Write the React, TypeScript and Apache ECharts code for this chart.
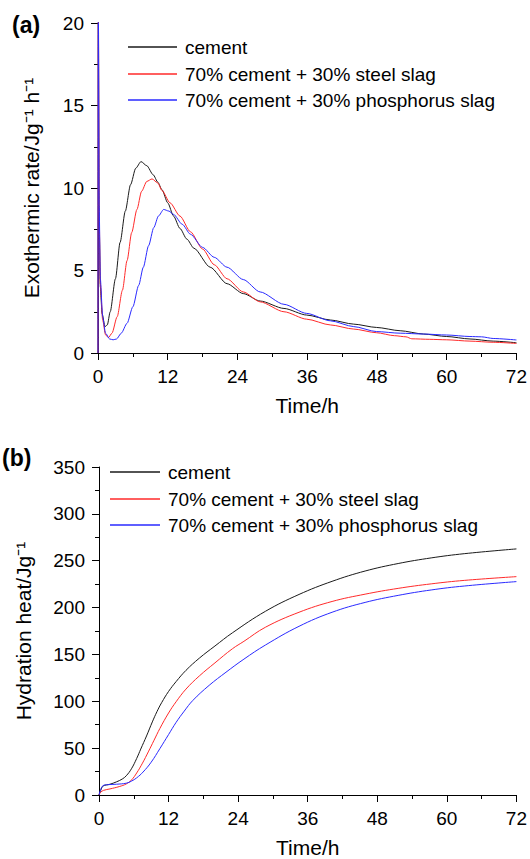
import React, { useEffect, useRef } from "react";
import * as echarts from "echarts";

// Series names and colours
const NAMES = [
  "cement",
  "70% cement + 30% steel slag",
  "70% cement + 30% phosphorus slag",
];
const COLORS = ["#1a1a1a", "#ff2a2a", "#2a2aff"];

// (a) exothermic rate, [time h, J/(g·h)]
const rateCement: [number, number][] = [
  [0, 0], [0.05, 22], [0.2, 8], [0.4, 4], [0.7, 2.4], [1.2, 1.6], [1.6, 1.7],
  [2.1, 2.5], [3, 4.5], [3.8, 6.7], [4.7, 8.6], [5.6, 10.2], [6.5, 11.2],
  [7.4, 11.6], [8.4, 11.35], [9.5, 10.8], [10.3, 10.35], [11, 9.9], [12, 9.1],
  [13, 8.3], [14.1, 7.55], [15.3, 6.9], [16.5, 6.35], [19.3, 5.2], [22.2, 4.2],
  [25, 3.6], [27.9, 3.15], [32, 2.7], [35.9, 2.3], [40, 2.0], [44, 1.75],
  [47.9, 1.55], [52, 1.35], [56, 1.15], [60, 1.0], [64, 0.85], [68, 0.72],
  [72, 0.62],
];
const rateSteel: [number, number][] = [
  [0, 0], [0.05, 22], [0.2, 8.5], [0.4, 4.2], [0.8, 2], [1.3, 1.1], [1.8, 0.93],
  [2.4, 1.2], [3.3, 2.2], [4.2, 3.8], [5.0, 5.6], [5.8, 7.3], [6.7, 8.7],
  [7.5, 9.8], [8.4, 10.4], [9.3, 10.55], [10.3, 10.3], [11, 9.85], [12.4, 9.1],
  [14.1, 8.3], [15.9, 7.35], [18, 6.3], [20, 5.35], [22.2, 4.5], [25, 3.7],
  [27.9, 3.1], [32, 2.5], [35.9, 2.05], [40, 1.7], [44, 1.45], [47.9, 1.23],
  [51, 1.05], [53, 0.98], [54, 0.86], [57, 0.83], [60, 0.8], [64, 0.72],
  [68, 0.65], [72, 0.58],
];
const ratePhosphorus: [number, number][] = [
  [0, 0], [0.05, 22], [0.2, 9], [0.4, 4.5], [0.8, 2.2], [1.3, 1.2], [2.0, 0.85],
  [2.6, 0.8], [3.2, 0.85], [4.0, 1.2], [5.0, 1.8], [6.0, 2.8], [7.0, 4.1],
  [7.8, 5.2], [8.7, 6.5], [9.6, 7.6], [10.4, 8.3], [11.3, 8.7], [12.2, 8.6],
  [13, 8.4], [14.5, 7.8], [15.9, 7.2], [18, 6.4], [20, 5.8], [22.2, 5.2],
  [25, 4.45], [27.9, 3.7], [32, 2.95], [35.9, 2.4], [40, 1.95], [44, 1.6],
  [47.9, 1.3], [52, 1.2], [56, 1.15], [60, 1.09], [64, 1.0], [66, 0.98],
  [68, 0.88], [72, 0.79],
];

// (b) cumulative hydration heat, [time h, J/g]
const heatCement: [number, number][] = [
  [0, 0], [0.3, 5], [0.7, 9.5], [1.9, 11.5], [3, 14], [4, 17], [4.7, 20.5],
  [5.6, 28], [6.5, 39], [7.2, 49], [8.2, 63], [9.2, 78], [10, 89], [10.8, 98.5],
  [12, 110.5], [13.3, 121], [15, 133], [17.3, 146], [20, 159], [23, 173],
  [28.7, 196], [34.5, 214], [40.2, 228], [45.9, 239], [51.6, 247], [57.3, 253],
  [63, 257.5], [72, 262.6],
];
const heatSteel: [number, number][] = [
  [0, 0], [0.3, 3], [0.8, 5], [1.9, 6.5], [3.5, 9], [4.7, 11.8], [5.6, 16],
  [6.5, 23.5], [7.5, 34], [8.5, 46], [9.5, 58.5], [10.5, 71], [12, 87.5],
  [13.3, 99.5], [15, 113], [17.3, 127], [20, 141], [23, 156], [25, 164],
  [28.7, 179], [34.5, 195], [40.2, 206.5], [45.9, 214.3], [51.6, 220.5],
  [57.3, 225.3], [63, 229], [72, 233],
];
const heatPhosphorus: [number, number][] = [
  [0, 0], [0.3, 6], [0.7, 10], [1.5, 11], [3, 11.5], [4.7, 12.6], [5.6, 14.8],
  [6.5, 18.3], [7.6, 24.5], [9, 35], [10.5, 49.5], [12, 64.5], [13.3, 77.5],
  [14.7, 89.5], [16.2, 101], [19, 117], [21.9, 131], [25, 145], [28.7, 160],
  [34.5, 180], [40.2, 195], [45.9, 205.5], [51.6, 213], [57.3, 218.8],
  [63, 223], [72, 227.7],
];

const TIME_TICKS = { min: 0, max: 72, interval: 12 };
const RATE_TICKS = { min: 0, max: 20, interval: 5 };
const HEAT_TICKS = { min: 0, max: 350, interval: 50 };

const FONT = "'Liberation Sans', Arial, Helvetica, sans-serif";

// Key for one panel: short coloured line followed by its series name
function keyItems(prefix: string, x: number, rows: number[], lineLen: number) {
  const items: any[] = [];
  NAMES.forEach((name, i) => {
    const cy = rows[i];
    items.push({
      type: "line",
      id: `${prefix}-line-${i}`,
      shape: { x1: x, y1: cy, x2: x + lineLen, y2: cy },
      style: { stroke: COLORS[i], lineWidth: 1.3, fill: null },
      z: 10,
    });
    items.push({
      type: "text",
      id: `${prefix}-text-${i}`,
      x: x + lineLen + 8,
      y: cy,
      style: {
        text: name,
        fontSize: 19,
        fontFamily: FONT,
        fill: "#000",
        verticalAlign: "middle",
        align: "left",
      },
      z: 10,
    });
  });
  return items;
}

export default function App() {
  const ref = useRef<HTMLDivElement>(null);

  useEffect(() => {
    if (!ref.current) return;
    const chart = echarts.init(ref.current, undefined, { renderer: "svg" });

    const axisCommon = {
      axisLine: { show: true, lineStyle: { color: "#000", width: 1 } },
      axisTick: { show: true, length: 7, inside: false, lineStyle: { color: "#000", width: 1 } },
      minorTick: { show: true, splitNumber: 2, length: 4, lineStyle: { color: "#000", width: 1 } },
      splitLine: { show: false },
      axisLabel: { color: "#000", fontSize: 19, fontFamily: FONT, margin: 14 },
      nameTextStyle: { color: "#000", fontSize: 21, fontFamily: FONT },
      nameLocation: "middle" as const,
    };

    const rateSets = [rateCement, rateSteel, ratePhosphorus];
    const heatSets = [heatCement, heatSteel, heatPhosphorus];

    const rateSeries = (data: [number, number][], i: number) => ({
      type: "line",
      name: NAMES[i],
      data,
      xAxisIndex: 0,
      yAxisIndex: 0,
      showSymbol: false,
      smooth: 0.25,
      smoothMonotone: "x",
      clip: true,
      lineStyle: { color: COLORS[i], width: 1 },
      itemStyle: { color: COLORS[i] },
    });

    const heatSeries = (data: [number, number][], i: number) => ({
      type: "line",
      name: NAMES[i],
      data,
      xAxisIndex: 1,
      yAxisIndex: 1,
      showSymbol: false,
      smooth: 0.4,
      clip: true,
      lineStyle: { color: COLORS[i], width: 1 },
      itemStyle: { color: COLORS[i] },
    });

    chart.setOption({
      animation: false,
      backgroundColor: "#fff",
      grid: [
        { left: 98, top: 23, width: 419, height: 330 },
        { left: 99, top: 467, width: 420, height: 331 },
      ],
      xAxis: [
        { ...axisCommon, type: "value", gridIndex: 0, ...TIME_TICKS, name: "Time/h", nameGap: 42 },
        { ...axisCommon, type: "value", gridIndex: 1, ...TIME_TICKS, name: "Time/h", nameGap: 42 },
      ],
      yAxis: [
        {
          ...axisCommon, type: "value", gridIndex: 0, ...RATE_TICKS,
          name: "Exothermic rate/Jg⁻¹ h⁻¹", nameGap: 56,
        },
        {
          ...axisCommon, type: "value", gridIndex: 1, ...HEAT_TICKS,
          name: "Hydration heat/Jg⁻¹", nameGap: 65,
        },
      ],
      graphic: [
        ...keyItems("a", 128, [47, 74, 100], 49),
        ...keyItems("b", 110, [472, 499, 525], 50),
        {
          type: "text", id: "label-a", left: 12, top: 13,
          style: { text: "(a)", fontSize: 23, fontWeight: "bold", fontFamily: FONT, fill: "#000" },
        },
        {
          type: "text", id: "label-b", left: 2, top: 446,
          style: { text: "(b)", fontSize: 23, fontWeight: "bold", fontFamily: FONT, fill: "#000" },
        },
      ],
      series: [
        ...rateSets.map((d, i) => rateSeries(d, i)),
        ...heatSets.map((d, i) => heatSeries(d, i)),
      ],
    });

    return () => chart.dispose();
  }, []);

  return (
    <div
      ref={ref}
      style={{ position: "absolute", left: 0, top: 0, width: 530, height: 859 }}
    />
  );
}
